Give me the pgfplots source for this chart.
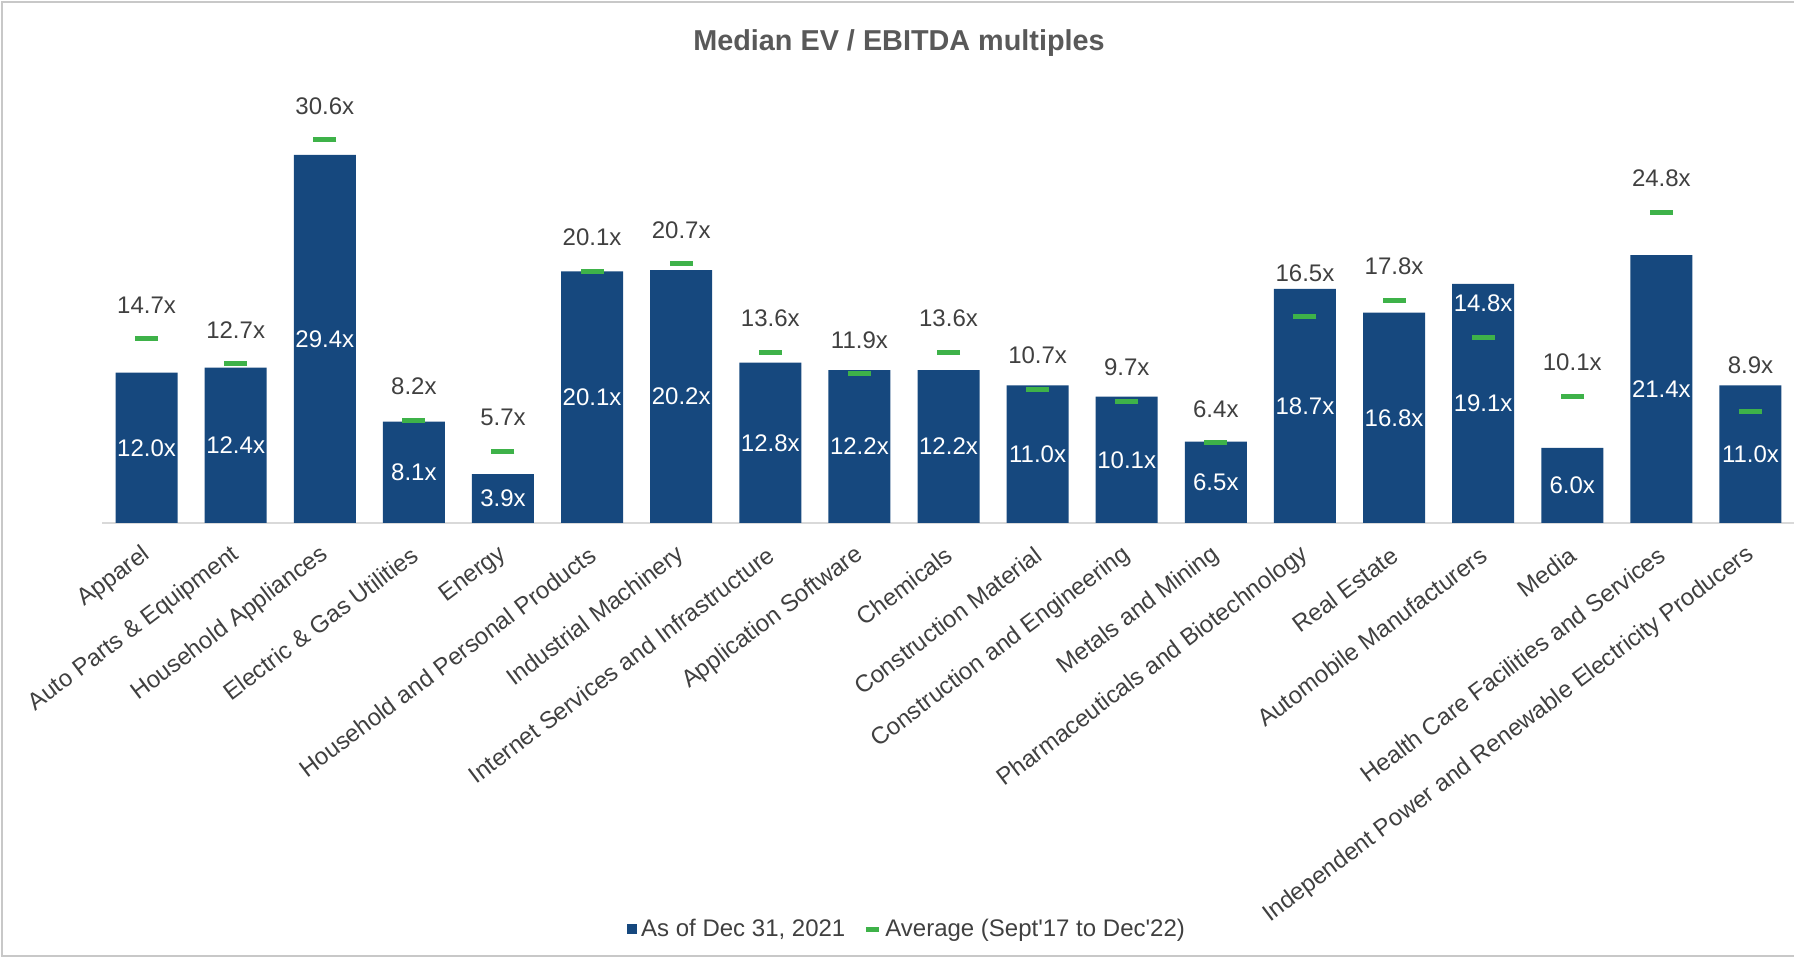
\documentclass[border=0pt]{standalone}
\usepackage{fontspec}
\setmainfont{Liberation Sans}
\usepackage{pgfplots}
\pgfplotsset{compat=1.18}
\usepackage{pgfplotstable}

\definecolor{barblue}{RGB}{22,72,126}
\definecolor{avggreen}{RGB}{62,178,73}
\definecolor{lblgray}{RGB}{64,64,64}
\definecolor{ttlgray}{RGB}{89,89,89}
\definecolor{framegray}{RGB}{200,200,200}
\definecolor{axgray}{RGB}{217,217,217}

% x, bar value, average, label offset (pt), white label (100) or gray (0)
\pgfplotstableread{
x bar avg off wh
0 12.0 14.7 17 0
1 12.4 12.7 17 0
2 29.4 30.6 17 0
3 8.1 8.2 17 0
4 3.9 5.7 17 0
5 20.1 20.1 17 0
6 20.2 20.7 17 0
7 12.8 13.6 17 0
8 12.2 11.9 17 0
9 12.2 13.6 17 0
10 11.0 10.7 17 0
11 10.1 9.7 17 0
12 6.5 6.4 17 0
13 18.7 16.5 21.5 0
14 16.8 17.8 17 0
15 19.1 14.8 17 100
16 6.0 10.1 17 0
17 21.4 24.8 17 0
18 11.0 8.9 23 0
}\data

\newcommand{\lblfont}{\fontsize{12}{14}\selectfont}

\begin{document}
\begin{tikzpicture}
\useasboundingbox (0,0) rectangle (897pt,479pt);
\draw[framegray, line width=1pt] (897pt,1pt) -- (0.75pt,1pt) -- (0.75pt,478.2pt) -- (897pt,478.2pt);
\node[font=\bfseries\fontsize{14.4}{17}\selectfont, text=ttlgray] at (449.5pt,457.5pt) {Median EV / EBITDA multiples};
\begin{axis}[
    at={(51pt,217.5pt)}, anchor=south west,
    scale only axis,
    width=846.5pt, height=206.6pt,
    xmin=-0.5, xmax=18.5, ymin=0, ymax=33,
    hide y axis,
    axis x line*=bottom,
    x axis line style={axgray, line width=1pt},
    xtick={0,...,18},
    xticklabels={Apparel, Auto Parts \& Equipment, Household Appliances, Electric \& Gas Utilities, Energy, Household and Personal Products, Industrial Machinery, Internet Services and Infrastructure, Application Software, Chemicals, Construction Material, Construction and Engineering, Metals and Mining, Pharmaceuticals and Biotechnology, Real Estate, Automobile Manufacturers, Media, Health Care Facilities and Services, Independent Power and Renewable Electricity Producers},
    major tick length=0pt,
    x tick label style={xshift=0.5pt, yshift=-14.5pt, rotate=37, anchor=east, font=\lblfont, text=lblgray, inner sep=0pt},
    /pgf/number format/assume math mode=true,
    clip=false,
    legend style={at={(0.476,-0.983)}, anchor=center, draw=none, fill=none,
        font=\lblfont, text=lblgray, legend columns=2,
        /tikz/every even column/.append style={column sep=7pt}},
    legend cell align=left,
]
\addplot[ybar, bar width=31pt, fill=barblue, draw=none,
    legend image code/.code={\fill[barblue] (0pt,-2.6pt) rectangle (5.2pt,2.6pt);}]
    table[x=x, y=bar]{\data};
\addlegendentry{As of Dec 31, 2021}
\addplot[only marks, mark=-, mark size=5.75pt,
    mark options={line width=2.5pt, draw=avggreen},
    legend image code/.code={\draw[avggreen, line width=2.5pt] (0pt,0pt) -- (6.5pt,0pt);},
    point meta=\thisrow{avg},
    visualization depends on={\thisrow{off} \as \labeloff},
    visualization depends on={\thisrow{wh} \as \whpct},
    nodes near coords={\pgfmathprintnumber[fixed,fixed zerofill,precision=1]{\pgfplotspointmeta}x},
    every node near coord/.append style={anchor=center, yshift=\labeloff pt, text=white!\whpct!lblgray, font=\lblfont}]
    table[x=x, y=avg]{\data};
\addlegendentry{Average (Sept\textquotesingle 17 to Dec\textquotesingle 22)}
\addplot[draw=none, mark=none, forget plot,
    point meta=\thisrow{bar},
    nodes near coords={\pgfmathprintnumber[fixed,fixed zerofill,precision=1]{\pgfplotspointmeta}x},
    every node near coord/.append style={anchor=center, text=white, font=\lblfont}]
    table[x=x, y expr=\thisrow{bar}/2]{\data};
\end{axis}
\end{tikzpicture}
\end{document}
